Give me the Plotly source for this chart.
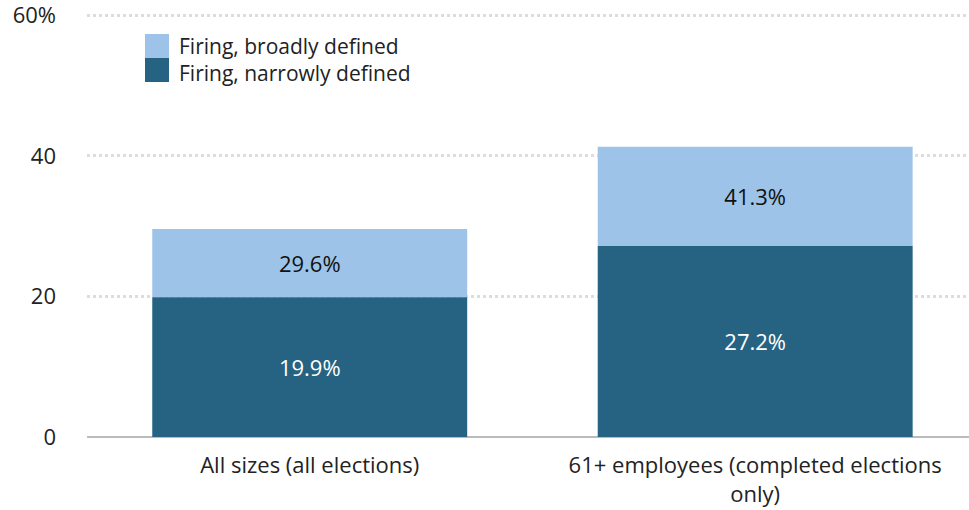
import plotly.graph_objects as go

categories = ["All sizes (all elections)", "61+ employees (completed elections<br>only)"]
broad = [29.6, 41.3]
narrow = [19.9, 27.2]
series_names = ["Firing, broadly defined", "Firing, narrowly defined"]
tick_vals = [0, 20, 40, 60]
tick_text = ["0", "20", "40", "60%"]

light = "#9dc4e8"
dark = "#266382"
font_family = "'Open Sans', sans-serif"
fsize = 22

upper = [b - n for b, n in zip(broad, narrow)]

fig = go.Figure()
fig.add_trace(go.Bar(
    x=categories, y=upper, base=narrow, name=series_names[0],
    marker=dict(color=light, line=dict(width=0)), width=0.707,
    text=[f"{v:.1f}%" for v in broad], textposition="inside",
    insidetextanchor="middle", textangle=0,
    textfont=dict(color="#111", size=fsize, family=font_family),
    hoverinfo="skip", showlegend=False,
))
fig.add_trace(go.Bar(
    x=categories, y=narrow, name=series_names[1],
    marker=dict(color=dark, line=dict(width=0)), width=0.707,
    text=[f"{v:.1f}%" for v in narrow], textposition="inside",
    insidetextanchor="middle", textangle=0,
    textfont=dict(color="white", size=fsize, family=font_family),
    hoverinfo="skip", showlegend=False,
))

# Legend drawn as squares + labels (paper coordinates of plot area)
pw, ph = 882.0, 423.0
def px_x(p):
    return (p - 87) / pw
def px_y(p):
    return (437 - p) / ph

legend_colors = [light, dark]
for i, col in enumerate(legend_colors):
    top = 34 + 24 * i
    fig.add_shape(type="rect", xref="paper", yref="paper",
                  x0=px_x(145), x1=px_x(169), y0=px_y(top + 24), y1=px_y(top),
                  fillcolor=col, line=dict(width=0))
fig.add_annotation(xref="paper", yref="paper", x=px_x(177), y=px_y(59),
                   text="<br>".join(series_names), showarrow=False,
                   xanchor="left", yanchor="middle", align="left",
                   font=dict(size=21, color="#222", family=font_family))

fig.update_layout(
    width=969, height=510,
    margin=dict(l=87, r=0, t=14, b=73),
    barmode="overlay",
    plot_bgcolor="white", paper_bgcolor="white",
    font=dict(family=font_family, size=fsize, color="#222"),
    showlegend=False,
    xaxis=dict(
        range=[-0.5, 1.48], showgrid=False, showline=False, ticks="",
        tickfont=dict(size=fsize, color="#222"), ticklabelstandoff=13,
    ),
    yaxis=dict(
        range=[0, 60.2], tickvals=tick_vals, ticktext=tick_text,
        showgrid=True, gridcolor="#dddddd", gridwidth=3, griddash="dot",
        zeroline=True, zerolinecolor="#bbbbbb", zerolinewidth=2,
        showline=False, ticks="", ticklabelstandoff=30,
        ticklabeloverflow="allow",
        tickfont=dict(size=fsize, color="#222"),
    ),
)

fig.write_html("out.html")
